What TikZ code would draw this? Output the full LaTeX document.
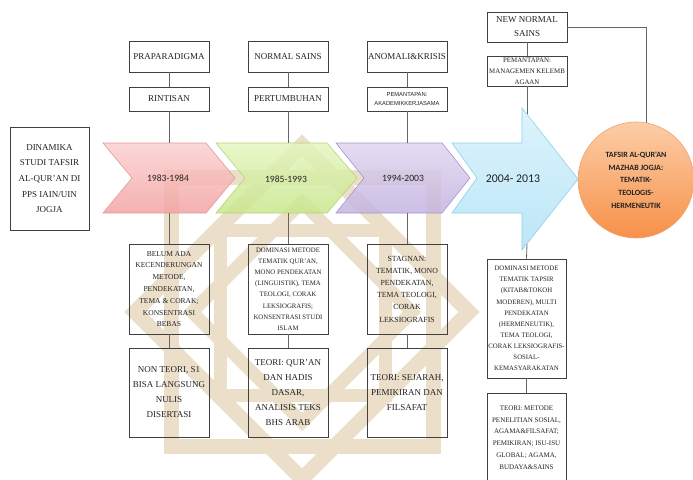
\documentclass[tikz,border=0pt]{standalone}
\usepackage{fontspec}
\setmainfont{Liberation Serif}
\newfontfamily\carlito{Carlito}
\newfontfamily\lsans{Liberation Sans}
\usetikzlibrary{calc}
\definecolor{boxc}{HTML}{404040}
\definecolor{linec}{HTML}{666666}
\definecolor{wm}{HTML}{ECDFCA}
\definecolor{txt}{HTML}{222222}
\definecolor{pinkT}{HTML}{FBCFCF}
\definecolor{pinkB}{HTML}{F3A0A0}
\definecolor{pinkD}{HTML}{E39A9A}
\definecolor{greenT}{HTML}{E4F6BE}
\definecolor{greenB}{HTML}{C7E68A}
\definecolor{greenD}{HTML}{B5D47A}
\definecolor{purpT}{HTML}{DFD5F0}
\definecolor{purpB}{HTML}{C2B1E0}
\definecolor{purpD}{HTML}{A596CF}
\definecolor{blueT}{HTML}{D6F2FC}
\definecolor{blueB}{HTML}{AEE1F6}
\definecolor{blueD}{HTML}{8FD0EA}
\definecolor{orT}{HTML}{FCCDA6}
\definecolor{orB}{HTML}{F7914A}
\definecolor{orD}{HTML}{F2A36E}
\begin{document}
\begin{tikzpicture}[x=1pt,y=-1pt,
  box/.style={draw=boxc, line width=0.8pt, align=center, inner sep=0pt, text=txt},
  conn/.style={draw=linec, line width=0.8pt},
  wmark/.style={draw=wm, line width=15pt},
  chev/.style={line width=0.6pt, fill opacity=0.82},
  year/.style={text=txt, font=\carlito\fontsize{9.6}{11}\selectfont}]
\useasboundingbox (0,0) rectangle (693,479);
\fill[white] (0,0) rectangle (693,479);

% watermark
\draw[wmark] (171.5,177.5) rectangle (433.5,446.5);
\draw[wmark] (302,145) -- (469,312) -- (302,479) -- (135,312) -- cycle;
\draw[wmark, line width=13pt] (220,230) rectangle (385,395);
\draw[wmark, line width=13pt] (302,202) -- (412,312) -- (302,422) -- (192,312) -- cycle;

% chevrons
\shade[chev, top color=pinkT, bottom color=pinkB, draw=pinkD]
  (103,143) -- (206,143) -- (235,178) -- (206,213) -- (103,213) -- (132,178) -- cycle;
\shade[chev, top color=greenT, bottom color=greenB, draw=greenD]
  (216,143) -- (327,143) -- (357,178) -- (327,213) -- (216,213) -- (245,178) -- cycle;
\shade[chev, top color=purpT, bottom color=purpB, draw=purpD]
  (336,143) -- (442,143) -- (470,178) -- (442,213) -- (336,213) -- (364,178) -- cycle;
\shade[chev, top color=blueT, bottom color=blueB, draw=blueD]
  (452,143) -- (522,143) -- (522,108) -- (578,179) -- (522,250) -- (522,213) -- (452,213) -- (477,178) -- cycle;

\node[year] (y1) at (168,178) {1983-1984};
\node[year] (y2) at (286,179) {1985-1993};
\node[year] (y3) at (403,178) {1994-2003};
\node[year, font=\carlito\fontsize{11.8}{13}\selectfont] (y4) at (513,179) {2004- 2013};

\coordinate (p1t) at (169,143); \coordinate (p1b) at (169,213);
\coordinate (p2t) at (288,143); \coordinate (p2b) at (288,213);
\coordinate (p3t) at (407,143); \coordinate (p3b) at (407,213);
\coordinate (p4t) at (527,114); \coordinate (p4b) at (527,244);

% goal circle
\shade[top color=orT, bottom color=orB, draw=orD, line width=0.6pt] (636,180) circle (58);
\node[circle, minimum size=116pt, inner sep=0pt, align=center, text=txt,
  font=\carlito\bfseries\fontsize{8}{12.7}\selectfont] (goal) at (636,180)
  {TAFSIR AL-QUR'AN\\MAZHAB JOGJA:\\TEMATIK-\\TEOLOGIS-\\HERMENEUTIK};

% left box
\node[box, minimum width=79pt, minimum height=103pt,
  font=\fontsize{9}{15.7}\selectfont] (din) at (49.5,178.5)
  {DINAMIKA\\STUDI TAFSIR\\AL-QUR'AN DI\\PPS IAIN/UIN\\JOGJA};

% top boxes
\node[box, minimum width=80pt, minimum height=31pt, font=\fontsize{9}{11}\selectfont] (prap) at (169,56.5) {PRAPARADIGMA};
\node[box, minimum width=80pt, minimum height=24pt, font=\fontsize{9}{11}\selectfont] (rint) at (169,99) {RINTISAN};
\node[box, minimum width=80pt, minimum height=31pt, font=\fontsize{9}{11}\selectfont] (norm) at (288,56.5) {NORMAL SAINS};
\node[box, minimum width=80pt, minimum height=24pt, font=\fontsize{9}{11}\selectfont] (pert) at (288,99) {PERTUMBUHAN};
\node[box, minimum width=80pt, minimum height=31pt, font=\fontsize{9}{11}\selectfont] (anom) at (407,56.5) {ANOMALI\&KRISIS};
\node[box, minimum width=80pt, minimum height=24pt, font=\lsans\fontsize{5.8}{9.5}\selectfont] (pem1) at (407,99) {PEMANTAPAN:\\AKADEMIKKERJASAMA};
\node[box, minimum width=80pt, minimum height=30pt, font=\fontsize{9}{14}\selectfont] (newn) at (527,27) {NEW NORMAL\\SAINS};
\node[box, minimum width=80pt, minimum height=30pt, font=\fontsize{6.9}{11}\selectfont] (pem2) at (527,71) {PEMANTAPAN:\\MANAGEMEN KELEMB\\AGAAN};

% bottom boxes
\node[box, minimum width=80pt, minimum height=90pt, font=\fontsize{7.5}{11.8}\selectfont] (belum) at (169,289)
  {BELUM ADA\\KECENDERUNGAN\\METODE,\\PENDEKATAN,\\TEMA \& CORAK;\\KONSENTRASI\\BEBAS};
\node[box, minimum width=80pt, minimum height=89pt, font=\fontsize{9}{15}\selectfont] (nonteori) at (169,392.5)
  {NON TEORI, S1\\BISA LANGSUNG\\NULIS\\DISERTASI};
\node[box, minimum width=80pt, minimum height=90pt, font=\fontsize{6.8}{11.2}\selectfont] (dom1) at (288,289)
  {DOMINASI METODE\\TEMATIK QUR'AN,\\MONO PENDEKATAN\\(LINGUISTIK), TEMA\\TEOLOGI, CORAK\\LEKSIOGRAFIS;\\KONSENTRASI STUDI\\ISLAM};
\node[box, minimum width=80pt, minimum height=89pt, font=\fontsize{9}{15}\selectfont] (teoriq) at (288,392.5)
  {TEORI: QUR'AN\\DAN HADIS\\DASAR,\\ANALISIS TEKS\\BHS ARAB};
\node[box, minimum width=80pt, minimum height=90pt, font=\fontsize{7.8}{12.2}\selectfont] (stag) at (407,289)
  {STAGNAN:\\TEMATIK, MONO\\PENDEKATAN,\\TEMA TEOLOGI,\\CORAK\\LEKSIOGRAFIS};
\node[box, minimum width=80pt, minimum height=89pt, font=\fontsize{9}{15}\selectfont] (teoris) at (407,392.5)
  {TEORI: SEJARAH,\\PEMIKIRAN DAN\\FILSAFAT};
\node[box, minimum width=79pt, minimum height=119pt, font=\fontsize{6.8}{11.1}\selectfont] (dom2) at (526.5,318.5)
  {DOMINASI METODE\\TEMATIK TAPSIR\\(KITAB\&TOKOH\\MODEREN), MULTI\\PENDEKATAN\\(HERMENEUTIK),\\TEMA TEOLOGI,\\CORAK LEKSIOGRAFIS-\\SOSIAL-\\KEMASYARAKATAN};
\node[box, minimum width=79pt, minimum height=89pt, font=\fontsize{7}{11.7}\selectfont] (teorim) at (526.5,437.5)
  {TEORI: METODE\\PENELITIAN SOSIAL,\\AGAMA\&FILSAFAT;\\PEMIKIRAN; ISU-ISU\\GLOBAL; AGAMA,\\BUDAYA\&SAINS};

% connectors
\draw[conn] (prap) -- (rint);
\draw[conn] (rint) -- (p1t);
\draw[conn] (p1b) -- (belum);
\draw[conn] (belum) -- (nonteori);
\draw[conn] (norm) -- (pert);
\draw[conn] (pert) -- (p2t);
\draw[conn] (p2b) -- (dom1);
\draw[conn] (dom1) -- (teoriq);
\draw[conn] (anom) -- (pem1);
\draw[conn] (pem1) -- (p3t);
\draw[conn] (p3b) -- (stag);
\draw[conn] (stag) -- (teoris);
\draw[conn] (newn) -- (pem2);
\draw[conn] (pem2.south) -- (p4t);
\draw[conn] (p4b) -- (dom2.north);
\draw[conn] (dom2.south) -- (teorim.north);
\draw[conn] (newn.east) -| (goal.80);
\end{tikzpicture}
\end{document}
